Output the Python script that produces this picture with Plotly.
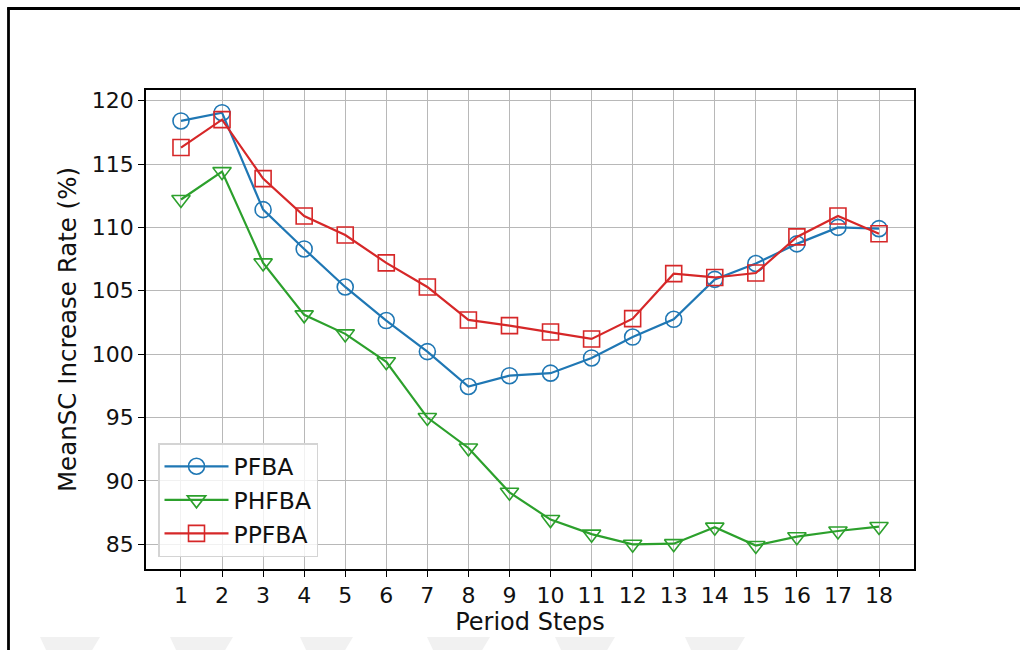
import plotly.graph_objects as go

steps = list(range(1, 19))
pfba = [118.4, 119.05, 111.4, 108.3, 105.3, 102.65, 100.2, 97.45, 98.3, 98.5, 99.7, 101.35, 102.75, 105.9, 107.15, 108.7, 110.0, 109.9]
phfba = [112.2, 114.4, 107.2, 103.1, 101.6, 99.4, 95.0, 92.6, 89.1, 86.95, 85.8, 85.0, 85.05, 86.35, 84.9, 85.6, 86.05, 86.4]
ppfba = [116.3, 118.5, 113.85, 110.9, 109.4, 107.2, 105.3, 102.7, 102.25, 101.75, 101.2, 102.8, 106.35, 106.05, 106.4, 109.25, 110.9, 109.5]

series_names = ["PFBA", "PHFBA", "PPFBA"]
colors = ["#1f77b4", "#2ca02c", "#d62728"]
symbols = ["circle-open", "triangle-down-open", "square-open"]

W, H = 1020, 650
L, R, T, B = 146, 914, 90, 569

fig = go.Figure()
for name, vals, c, s in zip(series_names, [pfba, phfba, ppfba], colors, symbols):
    fig.add_trace(go.Scatter(
        x=steps, y=vals, name=name, mode="lines+markers",
        line=dict(color=c, width=2.2),
        marker=dict(symbol=s, size=16, color=c, line=dict(color=c, width=1.6)),
        legendgroup=name,
    ))

def px_x(p):
    return (p - L) / (R - L)

def px_y(p):
    return (B - p) / (B - T)

shapes = []
# faint watermark fragments at the bottom of the page
for x0, x1 in [(40, 100), (170, 233), (300, 353), (427, 490), (555, 615), (685, 745)]:
    path = "M {a},{ya} L {b},{ya} L {c},{yb} L {d},{yb} Z".format(
        a=px_x(x0), b=px_x(x1), c=px_x(x1 - 9), d=px_x(x0 + 7), ya=px_y(637), yb=px_y(652))
    shapes.append(dict(type="path", xref="paper", yref="paper", path=path,
                       fillcolor="#f1f1f1", line=dict(width=0), layer="below"))
shapes += [
    dict(type="line", xref="paper", yref="paper", x0=px_x(8.5), x1=px_x(8.5), y0=px_y(7.5), y1=px_y(652),
         line=dict(color="black", width=2.8)),
    dict(type="line", xref="paper", yref="paper", x0=px_x(7.2), x1=px_x(1022), y0=px_y(8.5), y1=px_y(8.5),
         line=dict(color="black", width=2.8)),
]

fig.update_layout(
    width=W, height=H,
    margin=dict(l=L, r=W - R, t=T, b=H - B),
    paper_bgcolor="white", plot_bgcolor="white",
    font=dict(family="DejaVu Sans", size=22, color="#111111"),
    showlegend=True,
    legend=dict(
        x=px_x(158), y=px_y(443), xanchor="left", yanchor="top",
        bgcolor="rgba(255,255,255,0.8)", bordercolor="#d4d4d4", borderwidth=1.5,
        font=dict(size=23.5, color="#111111"), tracegroupgap=0, traceorder="grouped",
        itemwidth=64,
    ),
    shapes=shapes,
)
fig.update_xaxes(
    range=[0.148, 18.852], tickmode="array", tickvals=steps, ticktext=[str(s) for s in steps],
    tickfont=dict(size=22),
    showgrid=True, gridcolor="#b8b8b8", gridwidth=1.4,
    showline=True, linecolor="black", linewidth=1.6, mirror=True,
    ticks="outside", ticklen=6, tickwidth=1.4, tickcolor="black",
    zeroline=False,
    title=dict(text="Period Steps", font=dict(size=24), standoff=6),
)
fig.update_yaxes(
    range=[83.05, 120.84], tickmode="array", tickvals=[85, 90, 95, 100, 105, 110, 115, 120],
    tickfont=dict(size=22),
    showgrid=True, gridcolor="#b8b8b8", gridwidth=1.4,
    showline=True, linecolor="black", linewidth=1.6, mirror=True,
    ticks="outside", ticklen=6, tickwidth=1.4, tickcolor="black",
    zeroline=False,
    title=dict(text="MeanSC Increase Rate (%)", font=dict(size=24.5), standoff=8),
)

fig.write_html("out.html")
